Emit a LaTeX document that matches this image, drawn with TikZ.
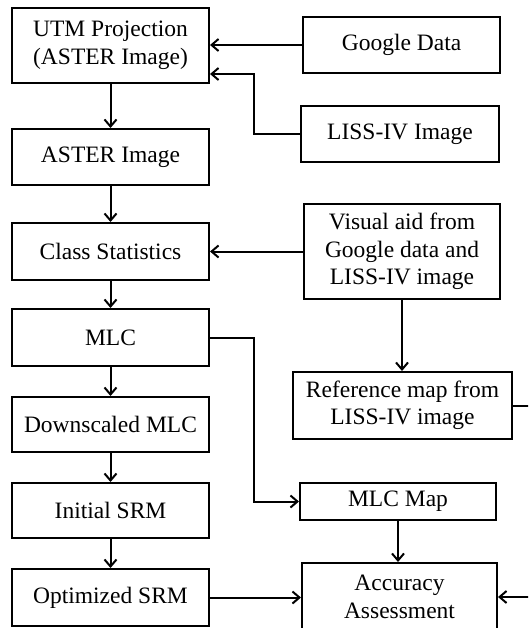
\documentclass[tikz,border=0pt]{standalone}
\usepackage{fontspec}
\setmainfont{Liberation Serif}
\usetikzlibrary{arrows.meta}
\tikzset{
  box/.style={draw, line width=2pt, align=center, inner sep=0pt,
    font=\fontsize{23.5}{27.5}\selectfont},
  arr/.style={line width=2pt, -{Straight Barb[length=7pt,width=12pt,line width=2pt]}},
  ln/.style={line width=2pt}
}
\begin{document}
\begin{tikzpicture}[x=1pt,y=-1pt]
\useasboundingbox (0,0) rectangle (528,628);
\clip (0,0) rectangle (528,628);
\fill[white] (0,0) rectangle (528,628);
% left column
\node[box, minimum width=197pt, minimum height=75pt] (utm) at (110.5,45.5) {UTM Projection\\(ASTER Image)};
\node[box, minimum width=197pt, minimum height=56pt] (aster) at (110.5,157) {ASTER Image};
\node[box, minimum width=197pt, minimum height=57pt] (cls) at (110.5,251.5) {Class Statistics};
\node[box, minimum width=197pt, minimum height=57pt] (mlc) at (110.5,337.5) {MLC};
\node[box, minimum width=197pt, minimum height=55pt] (down) at (110.5,424.5) {Downscaled MLC};
\node[box, minimum width=197pt, minimum height=55pt] (init) at (110.5,510.5) {Initial SRM};
\node[box, minimum width=197pt, minimum height=57pt] (opt) at (110.5,597.5) {Optimized SRM};
% right column
\node[box, minimum width=197pt, minimum height=56pt] (google) at (401.5,45) {Google Data};
\node[box, minimum width=198pt, minimum height=56pt] (liss) at (400,134) {LISS-IV Image};
\node[box, minimum width=196pt, minimum height=95pt] (visual) at (402,251.5) {Visual aid from\\Google data and\\LISS-IV image};
\node[box, minimum width=219pt, minimum height=67pt] (ref) at (402.5,405.5) {Reference map from\\LISS-IV image};
\node[box, minimum width=196pt, minimum height=37pt] (mlcmap) at (398,501.5) {MLC Map};
\node[box, minimum width=195pt, minimum height=68pt] (acc) at (399.5,597) {Accuracy\\Assessment};
% helper coordinates
\coordinate (b1) at (254,74);
\coordinate (b2) at (254,501.5);
\coordinate (r1) at (545,405.5);
\coordinate (r2) at (545,597);
% connectors
\draw[arr] (google.west) -- (google.west -| utm.east);
\draw[arr] (liss.west) -| (b1) -- (b1 -| utm.east);
\draw[arr] (utm) -- (aster);
\draw[arr] (aster) -- (cls);
\draw[arr] (cls) -- (mlc);
\draw[arr] (mlc) -- (down);
\draw[arr] (down) -- (init);
\draw[arr] (init) -- (opt);
\draw[arr] (visual.west) -- (visual.west -| cls.east);
\draw[arr] (visual.south) -- (visual.south |- ref.north);
\draw[arr] (mlc.east) -| (b2) -- (mlcmap.west);
\draw[arr] (mlcmap.south) -- (mlcmap.south |- acc.north);
\draw[arr] (opt.east) -- (opt.east -| acc.west);
\draw[ln] (ref.east) -- (r1);
\draw[arr] (r2) -- (acc.east);
\end{tikzpicture}
\end{document}
